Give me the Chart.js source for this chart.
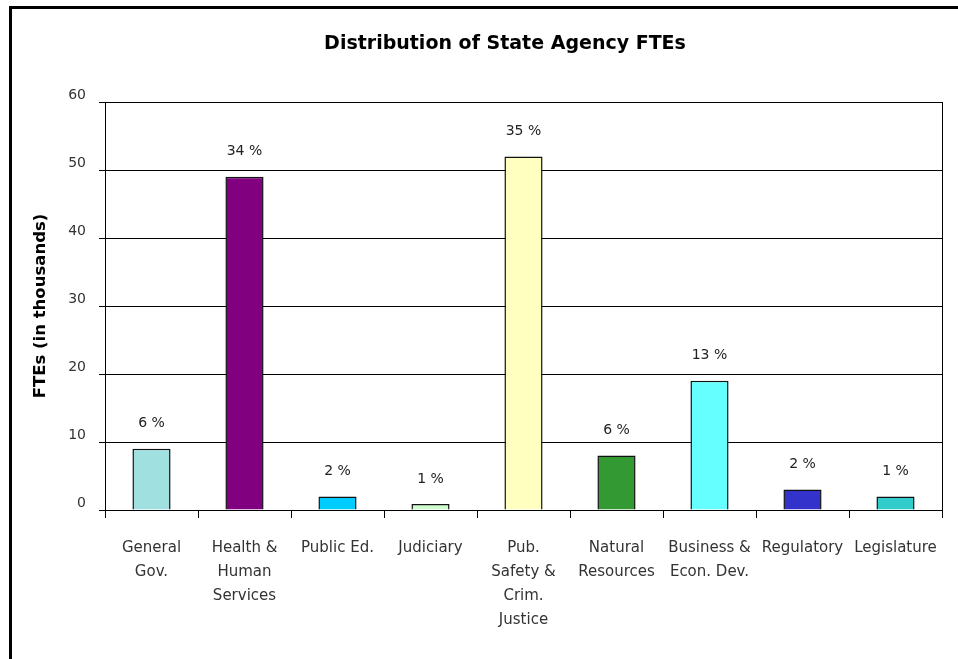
<!DOCTYPE html>
<html>
<head>
<meta charset="utf-8">
<script src="https://cdn.jsdelivr.net/npm/chart.js@4/dist/chart.umd.min.js"></script>
<style>
  html, body { margin: 0; padding: 0; background: #fff; overflow: hidden; }
  #wrap { position: relative; width: 958px; height: 659px; overflow: hidden; }
  #frame { position: absolute; left: 9px; top: 6px; width: 1100px; height: 800px; border: 3px solid #000; box-sizing: border-box; }
  canvas { position: absolute; left: 0; top: 0; }
</style>
</head>
<body>
<div id="wrap">
  <div id="frame"></div>
  <canvas id="chart" width="1010" height="659"></canvas>
</div>
<script>
// values (thousands of FTEs)
const categories = [
  ["General", "Gov."],
  ["Health &", "Human", "Services"],
  ["Public Ed."],
  ["Judiciary"],
  ["Pub.", "Safety &", "Crim.", "Justice"],
  ["Natural", "Resources"],
  ["Business &", "Econ. Dev."],
  ["Regulatory"],
  ["Legislature"]
];
const ftes = [9, 49, 2, 0.9, 52, 8, 19, 3, 2];
const shares = ["6 %", "34 %", "2 %", "1 %", "35 %", "6 %", "13 %", "2 %", "1 %"];
const barColors = ["#A0E0E0", "#800080", "#00CCFF", "#CCFFCC", "#FFFFC0", "#339933", "#66FFFF", "#3333CC", "#33CCCC"];
const yMax = 60;
const yStep = 10;

const FONT = "'DejaVu Sans', sans-serif";

// share labels above bars + right edge of plot box
const extras = {
  id: "extras",
  afterDatasetsDraw(chart) {
    const { ctx, chartArea } = chart;
    ctx.save();
    ctx.strokeStyle = "#000";
    ctx.lineWidth = 1;
    ctx.beginPath();
    ctx.moveTo(Math.round(chartArea.right) + 0.5, chartArea.top);
    ctx.lineTo(Math.round(chartArea.right) + 0.5, chartArea.bottom + 8);
    ctx.stroke();

    ctx.fillStyle = "#222";
    ctx.font = "14px " + FONT;
    ctx.textAlign = "center";
    ctx.textBaseline = "middle";
    chart.getDatasetMeta(0).data.forEach((bar, i) => {
      ctx.fillText(shares[i], bar.x, bar.y - 25);
    });
    ctx.restore();
  }
};

new Chart(document.getElementById("chart"), {
  type: "bar",
  data: {
    labels: categories,
    datasets: [{
      data: ftes,
      backgroundColor: barColors,
      borderColor: "#111",
      borderWidth: 1.5,
      categoryPercentage: 1,
      barPercentage: 0.41
    }]
  },
  options: {
    responsive: false,
    animation: false,
    devicePixelRatio: 1,
    layout: { padding: 0 },
    plugins: {
      legend: { display: false },
      tooltip: { enabled: false },
      title: {
        display: true,
        text: "Distribution of State Agency FTEs",
        color: "#000",
        font: { family: FONT, size: 19, weight: "bold", lineHeight: 1.2 },
        padding: { top: 33, bottom: 46.2 }
      }
    },
    scales: {
      x: {
        grid: { drawOnChartArea: false, tickLength: 8, color: "#000" },
        border: { color: "#000" },
        ticks: {
          color: "#333",
          font: { family: FONT, size: 15, lineHeight: 1.6 },
          padding: 18,
          maxRotation: 0,
          autoSkip: false
        },
        afterFit: s => { s.height = 149; }
      },
      y: {
        min: 0,
        max: yMax,
        grid: { color: "#000", tickLength: 6 },
        border: { color: "#000" },
        ticks: {
          stepSize: yStep,
          color: "#333",
          font: { family: FONT, size: 14 },
          padding: 13,
          labelOffset: -7
        },
        title: {
          display: true,
          text: "FTEs (in thousands)",
          color: "#000",
          font: { family: FONT, size: 16.5, weight: "bold", lineHeight: 1.2 },
          padding: { top: 31 }
        },
        afterFit: s => { s.width = 105; }
      },
      // empty right-hand axis that only reserves the margin right of the plot
      yRight: {
        position: "right",
        min: 0,
        max: yMax,
        grid: { display: false },
        border: { display: false },
        ticks: { display: false },
        afterFit: s => { s.width = 68; }
      }
    }
  },
  plugins: [extras]
});
</script>
</body>
</html>
